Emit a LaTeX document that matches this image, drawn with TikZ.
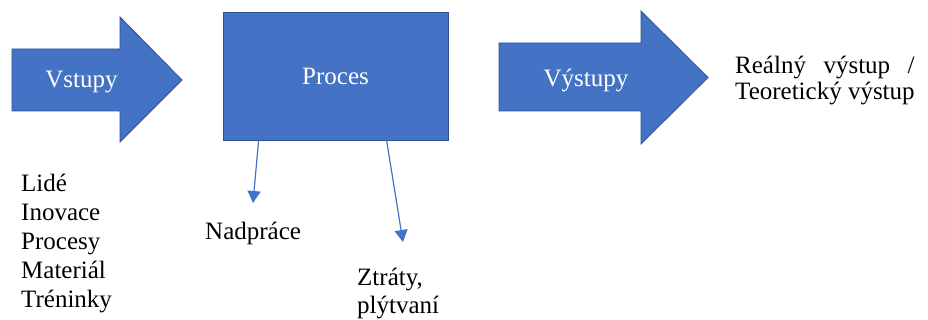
\documentclass[tikz,border=0pt]{standalone}
\usepackage{fontspec}
\setmainfont{Liberation Serif}
\usetikzlibrary{arrows.meta}
\definecolor{officeblue}{HTML}{4472C4}
\definecolor{officeedge}{HTML}{2F528F}
\begin{document}
\begin{tikzpicture}[x=1pt,y=-1pt,
  every node/.style={font=\fontsize{25}{29}\selectfont, inner sep=0pt},
  blockarrow/.style={fill=officeblue, draw=officeedge, line width=0.8pt},
  whitelabel/.style={text=white, anchor=base},
  blacklabel/.style={text=black, anchor=base west, align=left},
  conn/.style={draw=officeblue, line width=1.2pt,
    -{Triangle[length=12pt,width=13pt]}}]
\useasboundingbox (0,0) rectangle (928,320);

% input arrow
\draw[blockarrow] (12,49) -- (120,49) -- (120,17) -- (182,80)
  -- (120,142) -- (120,111) -- (12,111) -- cycle;
\node[whitelabel] (vstupy) at (81.5,88) {Vstupy};

% process box
\node[blockarrow, minimum width=225pt, minimum height=128pt,
  text=white] (proc) at (335.5,76) {Proces};

% output arrow
\draw[blockarrow] (499,43) -- (641,43) -- (641,11) -- (708,77.5)
  -- (641,144) -- (641,111) -- (499,111) -- cycle;
\node[whitelabel] (vystupy) at (586,87) {Výstupy};

% output description (anchored at the baseline of its last line)
\node[blacklabel, font=\fontsize{25}{26}\selectfont] (real) at (735,100)
  {\setbox0\hbox{Teoretický výstup}\hbox to\wd0{Reálný výstup /}\\Teoretický výstup};

% list of inputs
\node[blacklabel] (inputs) at (21,307)
  {Lidé\\Inovace\\Procesy\\Materiál\\Tréninky};

% side effects of the process
\coordinate (nadTip) at (253,203);
\coordinate (ztrTip) at (403,242);
\draw[conn] ([xshift=36pt]proc.south west) -- (nadTip);
\draw[conn] ([xshift=164pt]proc.south west) -- (ztrTip);
\node[blacklabel] (nadprace) at (205,240) {Nadpráce};
\node[blacklabel, font=\fontsize{25}{28}\selectfont] (ztraty) at (357,313)
  {Ztráty,\\plýtvaní};
\end{tikzpicture}
\end{document}
